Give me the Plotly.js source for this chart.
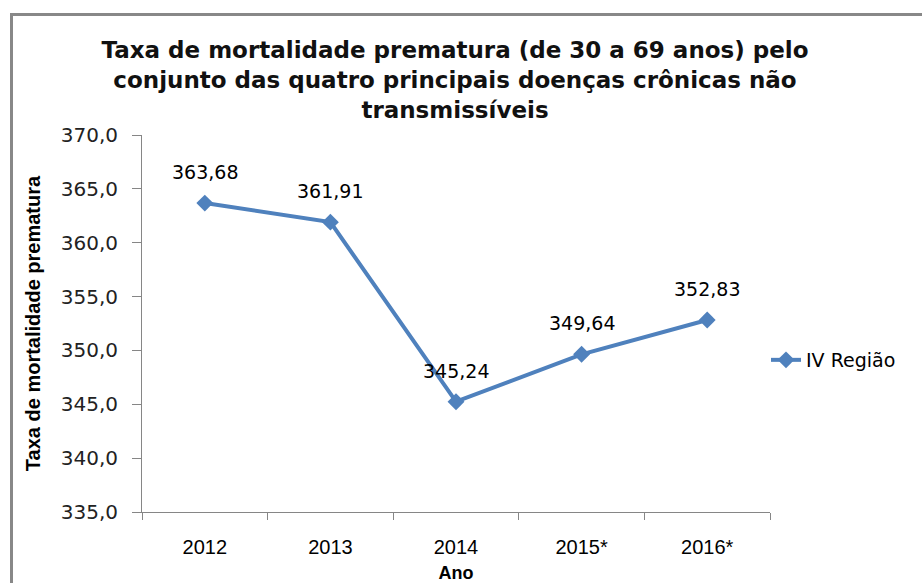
<!DOCTYPE html>
<html>
<head>
<meta charset="utf-8">
<script src="https://cdn.plot.ly/plotly-3.0.1.min.js"></script>
<style>
html,body{margin:0;padding:0;width:922px;height:583px;overflow:hidden;background:#fff;}
#chart{position:absolute;left:0;top:0;width:922px;height:583px;}
#frame{position:absolute;left:10px;top:13px;width:1000px;height:700px;border-left:3px solid #888;border-top:3px solid #888;pointer-events:none;}
</style>
</head>
<body>
<div id="chart"></div>
<div id="frame"></div>
<script>
var categories = ['2012', '2013', '2014', '2015*', '2016*'];
var values = [363.68, 361.91, 345.24, 349.64, 352.83];
var valueLabels = ['363,68', '361,91', '345,24', '349,64', '352,83'];
var seriesName = 'IV Região';
var yTickVals = [335, 340, 345, 350, 355, 360, 365, 370];
var yTickText = ['335,0', '340,0', '345,0', '350,0', '355,0', '360,0', '365,0', '370,0'];

var trace = {
  x: categories,
  y: values,
  type: 'scatter',
  mode: 'lines+markers',
  name: seriesName,
  line: {color: '#4F81BD', width: 4},
  marker: {symbol: 'diamond', size: 13, color: '#4F81BD'},
  hoverinfo: 'none'
};

// category axis: annotations positioned by category index
var annotations = categories.map(function (c, i) {
  return {
    x: i, y: values[i], xref: 'x', yref: 'y',
    text: valueLabels[i], showarrow: false, yshift: 31,
    font: {family: 'DejaVu Sans', size: 19, color: '#000'}
  };
});

var layout = {
  width: 922, height: 583,
  paper_bgcolor: '#fff', plot_bgcolor: '#fff',
  margin: {l: 142, r: 152, t: 135, b: 71},
  showlegend: true,
  title: {
    text: 'Taxa de mortalidade prematura (de 30 a 69 anos) pelo<br>conjunto das quatro principais doenças crônicas não<br>transmissíveis',
    font: {family: 'DejaVu Sans', size: 23, color: '#111', weight: 'bold'},
    x: 0.4935, xanchor: 'center', xref: 'container',
    y: 1 - 58 / 583, yanchor: 'top', yref: 'container'
  },
  xaxis: {
    type: 'category',
    categoryorder: 'array', categoryarray: categories,
    range: [-0.5, 4.5],
    showline: true, linecolor: '#868686', linewidth: 1,
    showgrid: false, zeroline: false,
    ticks: 'outside', ticklen: 7, tickcolor: '#868686', tickson: 'boundaries',
    tickangle: 0,
    ticklabelstandoff: 17,
    tickfont: {family: 'Liberation Sans', size: 20, color: '#000'},
    title: {text: 'Ano', font: {family: 'Liberation Sans', size: 18, color: '#000', weight: 'bold'}, standoff: 10}
  },
  yaxis: {
    range: [335, 370], tickmode: 'array', tickvals: yTickVals, ticktext: yTickText,
    showline: true, linecolor: '#868686', linewidth: 1,
    showgrid: false, zeroline: false,
    ticks: 'outside', ticklen: 9, tickcolor: '#868686',
    ticklabelstandoff: 10,
    tickfont: {family: 'DejaVu Sans', size: 20, color: '#222'},
    title: {text: 'Taxa de mortalidade prematura', font: {family: 'Liberation Sans', size: 20, color: '#000', weight: 'bold'}, standoff: 14}
  },
  legend: {
    x: (766 - 142) / 628, xanchor: 'left',
    y: (512 - 360) / 377, yanchor: 'middle',
    font: {family: 'DejaVu Sans', size: 19, color: '#000'},
    bgcolor: 'rgba(0,0,0,0)', borderwidth: 0
  },
  annotations: annotations
};

Plotly.newPlot('chart', [trace], layout, {displayModeBar: false, staticPlot: true});
</script>
</body>
</html>
